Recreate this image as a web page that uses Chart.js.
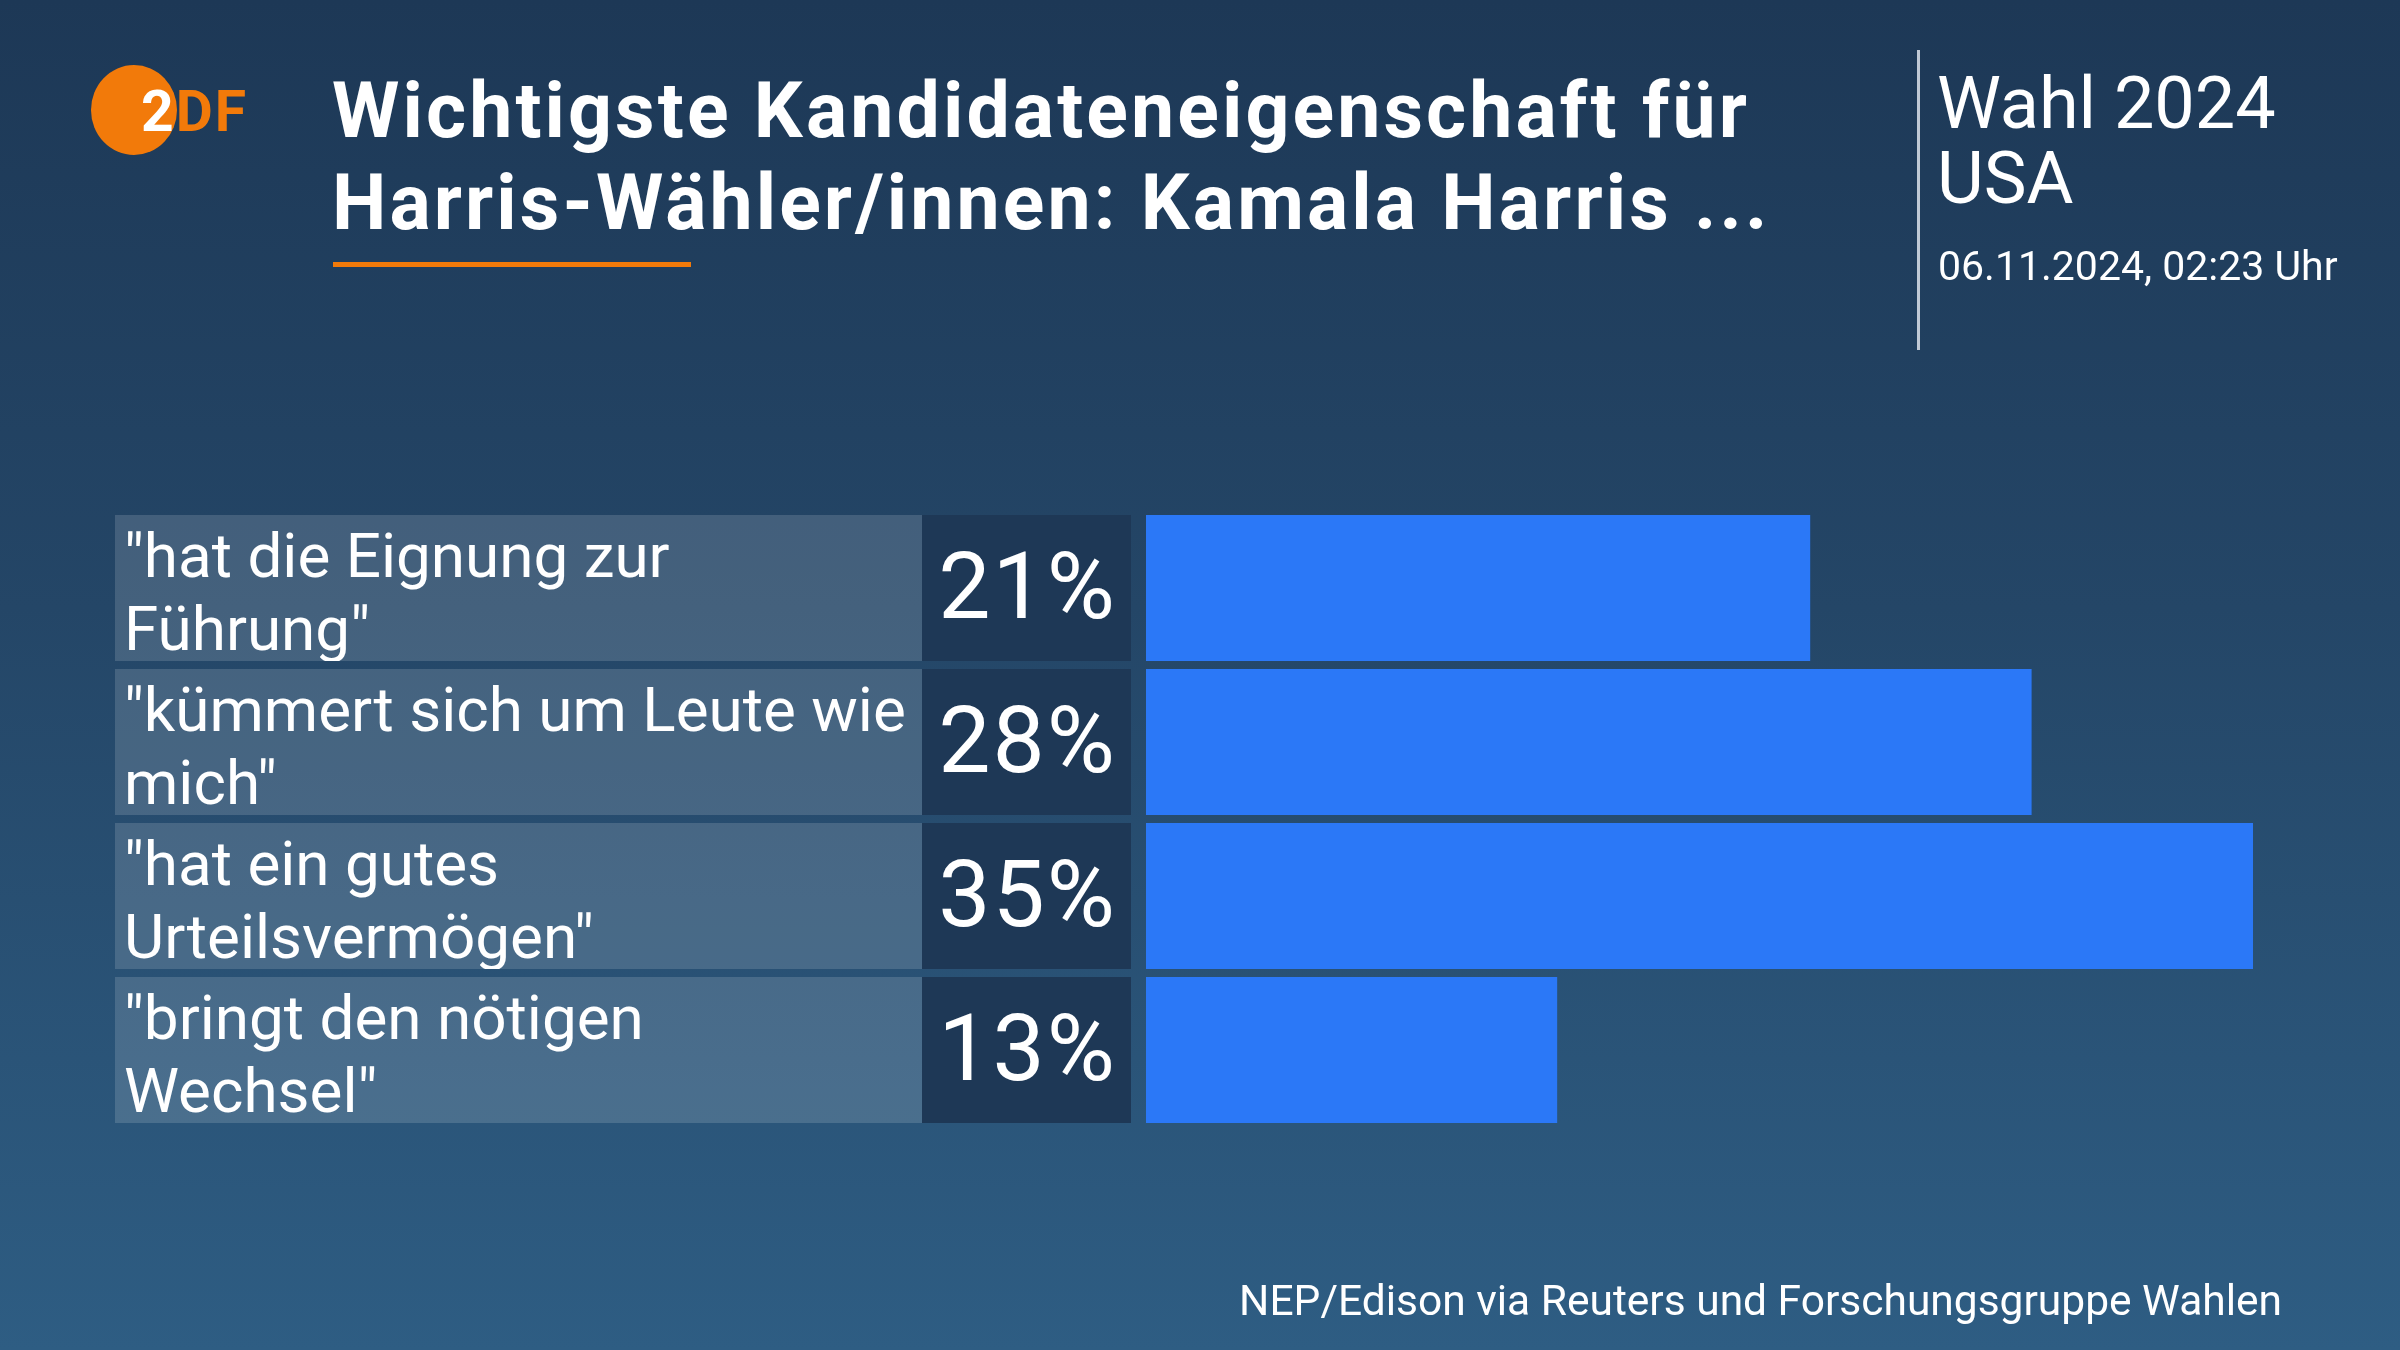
<!DOCTYPE html>
<html lang="de">
<head>
<meta charset="utf-8">
<title>Wichtigste Kandidateneigenschaft</title>
<script src="https://cdn.jsdelivr.net/npm/chart.js@4.4.1/dist/chart.umd.min.js"></script>
<style>
	html, body { margin: 0; padding: 0; }
	body {
		width: 2400px;
		height: 1350px;
		overflow: hidden;
		background: linear-gradient(180deg, #1d3856 0%, #244667 45%, #2e5d83 100%);
	}
	#mybarchart { position: absolute; left: 0; top: 0; }
</style>
</head>
<body>
<canvas id="mybarchart" width="2400" height="1350"></canvas>
<script>

// Start Data
const titleLines = ['Wichtigste Kandidateneigenschaft für', 'Harris-Wähler/innen: Kamala Harris ...'];
const headerLines = ['Wahl 2024', 'USA'];
const dateText = '06.11.2024, 02:23 Uhr';
const sourceText = 'NEP/Edison via Reuters und Forschungsgruppe Wahlen';

const categories = [
	['"hat die Eignung zur', 'Führung"'],
	['"kümmert sich um Leute wie', 'mich"'],
	['"hat ein gutes', 'Urteilsvermögen"'],
	['"bringt den nötigen', 'Wechsel"']
];
const shares = [21, 28, 35, 13];
// End Data

// Start Row Panels (label + percent box left of each bar)
const rowPanels = {
	id: 'rowPanels',
	beforeDatasetsDraw(chart){
		const c = chart.ctx;
		const left = chart.chartArea.left;
		const meta = chart.getDatasetMeta(0);
		meta.data.forEach(function(bar, i){
			const top = bar.y - bar.height / 2;
			const h = bar.height;
			const panelX = left - 1031;
			const panelW = 807;
			const boxX = left - 224;
			const boxW = 209;

			c.save();
			c.fillStyle = 'rgba(255,255,255,0.15)';
			c.fillRect(panelX, top, panelW, h);
			c.fillStyle = '#1e3856';
			c.fillRect(boxX, top, boxW, h);

			// label text, clipped to its panel
			c.save();
			c.beginPath();
			c.rect(panelX, top, panelW, h);
			c.clip();
			c.fillStyle = '#ffffff';
			c.font = '62px Roboto';
			c.textAlign = 'left';
			c.textBaseline = 'alphabetic';
			categories[i].forEach(function(line, j){
				c.fillText(line, panelX + 9, top + 62 + j * 73);
			});
			c.restore();

			// percent value
			c.fillStyle = '#ffffff';
			c.font = '93px Roboto';
			c.textAlign = 'center';
			c.letterSpacing = '2px';
			c.fillText(shares[i] + '%', boxX + boxW / 2 + 1, top + 103);
			c.restore();
		});
	}
};
// End Row Panels

// Start Header and Footer
const headerArea = {
	id: 'headerArea',
	afterDraw(chart){
		const c = chart.ctx;
		c.save();
		c.textBaseline = 'alphabetic';

		// logo
		c.fillStyle = '#f27a0a';
		c.beginPath();
		c.ellipse(134, 110, 43, 45, 0, 0, Math.PI * 2);
		c.fill();
		c.font = 'bold 57px Roboto';
		c.textAlign = 'left';
		c.letterSpacing = '2px';
		c.fillText('2DF', 141, 131);
		c.save();
		c.beginPath();
		c.ellipse(134, 110, 43, 45, 0, 0, Math.PI * 2);
		c.clip();
		c.fillStyle = '#ffffff';
		c.fillText('2DF', 141, 131);
		c.restore();

		// title
		c.fillStyle = '#ffffff';
		c.font = 'bold 77px Roboto';
		c.letterSpacing = '3.1px';
		c.fillText(titleLines[0], 332, 137);
		c.fillText(titleLines[1], 332, 229);
		c.letterSpacing = '0px';
		c.fillStyle = '#f27a0a';
		c.fillRect(333, 262, 358, 5);

		// right header
		c.fillStyle = 'rgba(220,226,234,0.85)';
		c.fillRect(1917, 50, 3, 300);
		c.fillStyle = '#ffffff';
		c.font = '72px Roboto';
		c.fillText(headerLines[0], 1937, 128);
		c.fillText(headerLines[1], 1937, 203);
		c.font = '41px Roboto';
		c.fillText(dateText, 1938, 280);

		// source
		c.font = '42.5px Roboto';
		c.textAlign = 'right';
		c.fillText(sourceText, 2282, 1315);
		c.restore();
	}
};
// End Header and Footer

// Start Bar Area
const ctx = document.getElementById('mybarchart');
new Chart(ctx, {
	type: 'bar',
	data: {
		labels: categories,
		datasets: [{
			data: shares,
			backgroundColor: '#2b78f7',
			borderWidth: 0,
			barPercentage: 0.948,
			categoryPercentage: 1
		}]
	},
	options: {
		indexAxis: 'y',
		responsive: false,
		animation: false,
		devicePixelRatio: 1,
		layout: {
			padding: { left: 1146, right: 147, top: 511, bottom: 223 }
		},
		plugins: {
			legend: { display: false },
			tooltip: { enabled: false }
		},
		scales: {
			x: { display: false, min: 0, max: 35 },
			y: { display: false }
		}
	},
	plugins: [rowPanels, headerArea]
});
// End Bar Area

</script>
</body>
</html>
